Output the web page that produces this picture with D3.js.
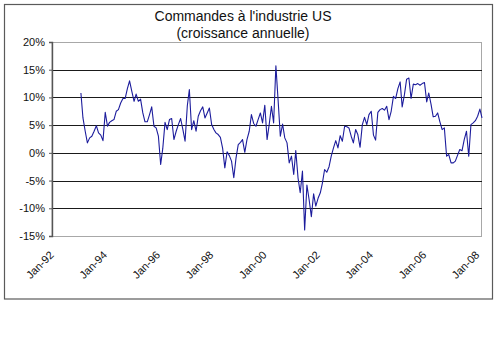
<!DOCTYPE html>
<html>
<head>
<meta charset="utf-8">
<script src="https://cdn.jsdelivr.net/npm/d3@7"></script>
<style>
  body { margin: 0; background: #fff; }
  svg { display: block; font-family: "Liberation Sans", Arial, sans-serif; }
</style>
</head>
<body>
<svg id="chart" width="499" height="338"></svg>
<script>
// Croissance annuelle des commandes, en %, mensuel de fév. 1993 à mars 2008
const firstMonth = new Date(1993, 1, 1);
const v1993 = [10.8, 6.3, 3.9, 1.8, 2.7, 3.0, 3.9, 4.9, 3.6, 3.2, 2.2];
const v1994 = [7.3, 4.8, 5.5, 5.8, 6.0, 7.5, 7.8, 9.0, 9.8, 9.8, 11.6, 13.0];
const v1995 = [11.1, 9.3, 10.6, 9.3, 9.7, 7.2, 5.6, 5.6, 6.9, 8.3, 4.8, 4.5];
const v1996 = [3.0, -2.1, 0.8, 5.5, 4.2, 6.0, 6.2, 2.4, 3.9, 5.1, 6.2, 4.3];
const v1997 = [2.1, 8.5, 11.4, 4.2, 5.8, 3.9, 6.6, 7.6, 8.3, 6.3, 7.2, 8.1];
const v1998 = [5.1, 4.2, 3.6, 3.3, 2.8, 0.8, -2.7, 0.2, -0.5, -1.5, -4.5, -1.0];
const v1999 = [1.5, 1.9, 2.4, 0.1, 2.4, 3.9, 6.9, 5.3, 4.8, 6.0, 7.2, 5.4];
const v2000 = [8.6, 2.4, 5.1, 8.4, 5.4, 15.7, 9.6, 3.0, 5.2, 2.7, 1.8, -1.8];
const v2001 = [-0.6, -3.9, 0.4, -4.5, -7.2, -3.3, -13.9, -5.8, -8.5, -11.5, -7.4, -9.6];
const v2002 = [-8.2, -7.2, -5.5, -3.0, -3.5, -2.5, -0.6, 0.9, 2.2, 0.9, 3.1, 2.1];
const v2003 = [4.8, 4.7, 4.5, 3.0, 1.8, 4.2, 3.3, 1.0, 5.1, 6.4, 5.1, 6.9];
const v2004 = [7.5, 3.2, 2.3, 7.3, 7.8, 8.0, 7.7, 8.4, 6.0, 7.5, 10.2, 9.8];
const v2005 = [11.6, 12.8, 8.3, 10.5, 13.3, 13.5, 9.8, 12.4, 12.3, 12.5, 12.2, 12.5];
const v2006 = [12.7, 9.2, 10.8, 8.8, 6.5, 6.6, 7.2, 5.6, 4.2, 4.5, -0.6, -0.3];
const v2007 = [-1.8, -1.8, -1.5, -0.4, 0.6, 0.4, 2.4, 3.9, -0.6, 5.1, 5.4, 5.8];
const v2008 = [6.6, 7.9, 6.3];

const yTicks = [-15, -10, -5, 0, 5, 10, 15, 20];
const xTickYears = [1992, 1994, 1996, 1998, 2000, 2002, 2004, 2006, 2008];
const titleLines = ["Commandes à l'industrie US", "(croissance annuelle)"];

const values = [].concat(v1993, v1994, v1995, v1996, v1997, v1998, v1999,
  v2000, v2001, v2002, v2003, v2004, v2005, v2006, v2007, v2008);
const data = values.map((v, i) => ({
  date: d3.timeMonth.offset(firstMonth, i),
  value: v
}));

const svg = d3.select("#chart");

const margin = { top: 42, right: 17, bottom: 102, left: 52 };
const width = +svg.attr("width");
const height = +svg.attr("height");
const innerWidth = width - margin.left - margin.right;
const innerHeight = height - margin.top - margin.bottom;

// cadre extérieur
svg.append("rect")
  .attr("x", 4.5)
  .attr("y", 4.5)
  .attr("width", 488)
  .attr("height", 294.5)
  .attr("fill", "#fff")
  .attr("stroke", "#5a5a5a")
  .attr("stroke-width", 1.2);

svg.selectAll(".title")
  .data(titleLines)
  .join("text")
  .attr("class", "title")
  .attr("x", 243)
  .attr("y", (d, i) => 21 + i * 17)
  .attr("text-anchor", "middle")
  .attr("font-size", "14px")
  .attr("fill", "#111")
  .text(d => d);

const g = svg.append("g")
  .attr("transform", `translate(${margin.left}, ${margin.top})`);

const x = d3.scaleTime()
  .domain([new Date(1992, 0, 1), new Date(2008, 2, 1)])
  .range([0, innerWidth]);

const y = d3.scaleLinear()
  .domain([-15, 20])
  .range([innerHeight, 0]);

// bordure de la zone de tracé
g.append("rect")
  .attr("x", 0)
  .attr("y", 0.5)
  .attr("width", innerWidth - 0.5)
  .attr("height", innerHeight)
  .attr("fill", "none")
  .attr("stroke", "#a8a8a8")
  .attr("stroke-width", 1);

// quadrillage horizontal
g.selectAll(".grid")
  .data(yTicks.filter(t => t > -15 && t < 20))
  .join("line")
  .attr("class", "grid")
  .attr("x1", 0)
  .attr("x2", innerWidth)
  .attr("y1", d => Math.round(y(d)) + 0.5)
  .attr("y2", d => Math.round(y(d)) + 0.5)
  .attr("stroke", "#1a1a1a")
  .attr("stroke-width", 1);

const yAxis = g.append("g")
  .call(d3.axisLeft(y)
    .tickValues(yTicks)
    .tickSize(3)
    .tickPadding(4)
    .tickFormat(d => d + "%"));

yAxis.select(".domain")
  .attr("stroke", "#555")
  .attr("stroke-width", 1.4);
yAxis.selectAll(".tick line").attr("stroke", "#555");
yAxis.selectAll(".tick text")
  .attr("font-size", "11px")
  .attr("font-family", "Liberation Sans, Arial, sans-serif")
  .attr("fill", "#111");

const xAxis = g.append("g")
  .attr("transform", `translate(0, ${innerHeight})`)
  .call(d3.axisBottom(x)
    .tickValues(xTickYears.map(yr => new Date(yr, 0, 1)))
    .tickSize(0)
    .tickFormat(d3.timeFormat("%b-%y")));

xAxis.select(".domain").remove();
xAxis.selectAll(".tick text")
  .attr("font-size", "11px")
  .attr("font-family", "Liberation Sans, Arial, sans-serif")
  .attr("fill", "#111")
  .attr("dy", null)
  .attr("y", 0)
  .attr("transform", "translate(2, 19.7) rotate(-45)")
  .style("text-anchor", "end");

const line = d3.line()
  .x(d => x(d.date))
  .y(d => y(d.value));

g.append("path")
  .datum(data)
  .attr("fill", "none")
  .attr("stroke", "#1c1c9c")
  .attr("stroke-width", 1.1)
  .attr("stroke-linejoin", "round")
  .attr("d", line);
</script>
</body>
</html>
